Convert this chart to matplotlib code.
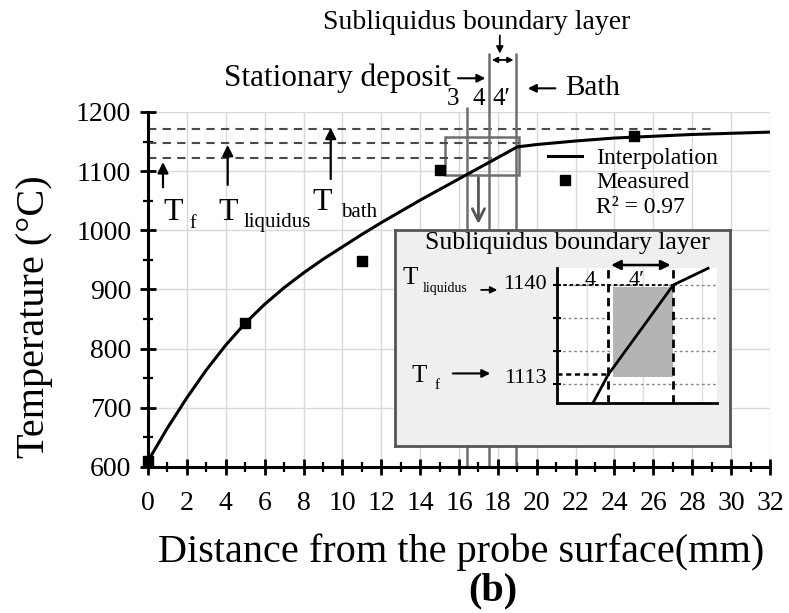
import matplotlib
matplotlib.use("Agg")
import matplotlib.pyplot as plt
from matplotlib.patches import Rectangle
from matplotlib.lines import Line2D

plt.rcParams['font.family'] = ['Liberation Serif', 'DejaVu Serif']

# --- data ---
measured_x = [0, 5, 11, 15, 25]
measured_t = [610, 843, 948, 1102, 1160]

curve_x = [0, 1, 2, 3, 4, 5, 6, 7, 8, 9, 10, 11, 12, 13, 14, 15, 16, 17, 18, 19,
           20, 22, 24, 26, 28, 30, 32]
curve_t = [610, 666, 717, 764, 806, 843, 875, 903, 928, 951, 972, 993, 1013, 1032,
           1051, 1069, 1087, 1105, 1123, 1141, 1145, 1151, 1156, 1159, 1162, 1164, 1166]

# reference temperatures (dashed lines) and where they stop
t_levels = [1171, 1147, 1123]
t_level_end = [29, 19.1, 18]

# zone boundaries (mm)
zone_x = [16.4, 17.55, 18.95]
zone_labels = ['3', '4', '4′']
zone_label_x = [15.7, 17.0, 18.2]

# zoomed view of the subliquidus layer
mini_x = [17.2, 17.55, 19.05, 19.85]
mini_t = [1104.5, 1113, 1140, 1145]
mini_yticks = [1110, 1120, 1130, 1140]
mini_xgrid = [17.05, 18.35, 19.7]
t_f, t_liq = 1113, 1140

fig = plt.figure(figsize=(7.89, 6.13), dpi=100)
ax = fig.add_axes([0.1876, 0.2382, 0.7883, 0.5791])

ax.set_xlim(0, 32)
ax.set_ylim(600, 1200)
ax.set_xticks(range(0, 33, 2))
ax.set_xticks(range(0, 33, 1), minor=True)
ax.set_yticks(range(600, 1201, 100))
ax.set_yticks(range(600, 1201, 50), minor=True)
ax.grid(True, which='major', color='#d9d9d9', lw=1)
ax.set_axisbelow(True)
for s in ['top', 'right']:
    ax.spines[s].set_visible(False)
for s in ['left', 'bottom']:
    ax.spines[s].set_linewidth(2.2)
ax.tick_params(which='major', direction='inout', length=12, width=2, labelsize=20, pad=6)
ax.tick_params(axis='x', which='major', pad=11)
ax.tick_params(which='minor', direction='inout', length=7, width=1.6)

# reference temperature levels
for lvl, xe in zip(t_levels, t_level_end):
    ax.plot([0, xe], [lvl, lvl], ls=(0, (4, 3)), color='#4a4a4a', lw=1.5)

# zone boundary lines
ax.vlines(zone_x[0], 600, 1208, color='#6e6e6e', lw=1.8, clip_on=False)
ax.vlines(zone_x[1:], 600, 1300, color='#6e6e6e', lw=1.8, clip_on=False)
for lx, lab in zip(zone_label_x, zone_labels):
    ax.text(lx, 1203, lab, fontsize=18, ha='center', va='bottom', clip_on=False)

# highlighted box and the arrow down to the inset
ax.add_patch(Rectangle((15.28, 1093.5), 3.8, 64.2, fill=False, ec='#6e6e6e', lw=1.8))
ax.annotate('', xy=(17.0, 1006), xytext=(17.0, 1094),
            arrowprops=dict(arrowstyle='->', color='#555555', lw=2, mutation_scale=22))

# curve and points
ax.plot(curve_x, curve_t, color='black', lw=2.2, zorder=4)
ax.plot(measured_x, measured_t, 's', color='black', ms=7.5, zorder=5, clip_on=False)

# T labels with arrows
arrow_kw = dict(arrowstyle='-|>', color='black', lw=1.6, mutation_scale=16)
ax.annotate('', xy=(0.77, 1120), xytext=(0.77, 1068), arrowprops=arrow_kw)
ax.annotate('', xy=(4.1, 1149), xytext=(4.1, 1072), arrowprops=arrow_kw)
ax.annotate('', xy=(9.4, 1178), xytext=(9.4, 1082), arrowprops=arrow_kw)
ax.text(1.3, 1030, 'T', fontsize=23, ha='center', va='center')
ax.text(2.3, 1011, 'f', fontsize=14, ha='center', va='center')
ax.text(4.1, 1030, 'T', fontsize=23, ha='center', va='center')
ax.text(4.9, 1013, 'liquidus', fontsize=15, ha='left', va='center')
ax.text(8.95, 1047, 'T', fontsize=23, ha='center', va='center')
ax.text(9.95, 1030, 'bath', fontsize=15, ha='left', va='center')

# top annotations
ax.text(16.9, 1352, 'Subliquidus boundary layer', fontsize=20, ha='center',
        va='center', clip_on=False)
ax.annotate('', xy=(18.1, 1294), xytext=(18.1, 1334), annotation_clip=False,
            arrowprops=dict(arrowstyle='-|>', color='black', lw=1.3, mutation_scale=10))
ax.annotate('', xy=(zone_x[1], 1288), xytext=(zone_x[2], 1288), annotation_clip=False,
            arrowprops=dict(arrowstyle='<|-|>', color='black', lw=1.3, mutation_scale=8))
ax.text(15.55, 1257, 'Stationary deposit', fontsize=22.5, ha='right', va='center',
        clip_on=False)
ax.annotate('', xy=(17.5, 1257), xytext=(15.8, 1257), annotation_clip=False,
            arrowprops=dict(arrowstyle='-|>', color='black', lw=1.5, mutation_scale=12))
ax.annotate('', xy=(19.4, 1240), xytext=(21.1, 1240), annotation_clip=False,
            arrowprops=dict(arrowstyle='-|>', color='black', lw=1.5, mutation_scale=12))
ax.text(21.45, 1240, 'Bath', fontsize=21, ha='left', va='center', clip_on=False)

# legend
handles = [Line2D([], [], color='black', lw=2.2),
           Line2D([], [], ls='none', marker='s', color='black', ms=7.5),
           Line2D([], [], ls='none')]
ax.legend(handles, ['Interpolation', 'Measured', 'R² = 0.97'], loc='upper left',
          bbox_to_anchor=(0.624, 0.933), frameon=False, fontsize=17, borderpad=0,
          handlelength=1.45, handletextpad=0.6, labelspacing=0.12)

fig.text(0.585, 0.099, 'Distance from the probe surface(mm)', fontsize=29,
         ha='center', va='center')
fig.text(0.044, 0.484, 'Temperature (°C)', fontsize=29, rotation=90,
         ha='center', va='center')
fig.text(0.625, 0.036, '(b)', fontsize=29, fontweight='bold', ha='center', va='center')

# inset panel
ins = fig.add_axes([0.5006, 0.2724, 0.4246, 0.3524])
ins.set_facecolor('#efefef')
ins.set_xticks([])
ins.set_yticks([])
for s in ins.spines.values():
    s.set_color('#555555')
    s.set_linewidth(2)
ins.text(0.516, 0.94, 'Subliquidus boundary layer', fontsize=18.5, ha='center',
         va='center', transform=ins.transAxes)

mini = fig.add_axes([0.7056, 0.3421, 0.2028, 0.2207])
mini.set_facecolor('white')
mini.set_xlim(16.36, 20.05)
mini.set_ylim(1104.3, 1145.1)
for s in ['top', 'right']:
    mini.spines[s].set_visible(False)
for s in ['left', 'bottom']:
    mini.spines[s].set_linewidth(2)
mini.set_xticks(mini_xgrid)
mini.set_yticks(mini_yticks)
mini.tick_params(axis='x', length=0, labelbottom=False)
mini.tick_params(axis='y', direction='inout', length=6, width=1.5, labelleft=False)
mini.grid(True, axis='x', color='#dedede', lw=1)
mini.grid(True, axis='y', color='#888888', lw=1, ls=(0, (2, 2)))
mini.set_axisbelow(True)

mini.add_patch(Rectangle((17.65, 1112.3), 1.4, 27.2, color='#b4b4b4', lw=0, zorder=1))
mini.vlines([mini_x[1], mini_x[2]], 1104.3, 1146, colors='black', lw=2,
            linestyles=(0, (3, 2)), clip_on=False, zorder=3)
mini.plot([16.36, mini_x[1]], [t_f, t_f], color='black', lw=1.8, ls=(0, (2, 1.5)), zorder=3)
mini.plot([16.36, mini_x[2]], [t_liq, t_liq], color='black', lw=1.3, ls=(0, (2, 1.5)), zorder=3)
mini.plot(mini_x, mini_t, color='black', lw=2, clip_on=False, zorder=4)
mini.text(17.13, 1141.3, '4', fontsize=16, ha='center', va='center')
mini.text(18.2, 1141.3, '4′', fontsize=16, ha='center', va='center')
mini.annotate('', xy=(mini_x[1], 1146), xytext=(mini_x[2], 1146), annotation_clip=False,
              arrowprops=dict(arrowstyle='<|-|>', color='black', lw=1.8, mutation_scale=14))

ytr = mini.get_yaxis_transform()
mini.text(-0.065, t_liq, '1140', fontsize=16, ha='right', va='center', transform=ytr)
mini.text(-0.065, t_f - 1.2, '1113', fontsize=16, ha='right', va='center', transform=ytr)
mini.text(-0.917, 1142, 'T', fontsize=18, ha='center', va='center', transform=ytr)
mini.text(-0.84, 1139, 'liquidus', fontsize=10, ha='left', va='center', transform=ytr)
mini.annotate('', xy=(-0.354, 1138.5), xytext=(-0.49, 1138.5), xycoords=ytr,
              textcoords=ytr, annotation_clip=False,
              arrowprops=dict(arrowstyle='-|>', color='black', lw=1.3, mutation_scale=10))
mini.text(-0.86, 1112.6, 'T', fontsize=18, ha='center', va='center', transform=ytr)
mini.text(-0.75, 1109.6, 'f', fontsize=11, ha='center', va='center', transform=ytr)
mini.annotate('', xy=(-0.398, 1113.3), xytext=(-0.667, 1113.3), xycoords=ytr,
              textcoords=ytr, annotation_clip=False,
              arrowprops=dict(arrowstyle='-|>', color='black', lw=1.5, mutation_scale=12))

fig.savefig('out.png', dpi=100)
